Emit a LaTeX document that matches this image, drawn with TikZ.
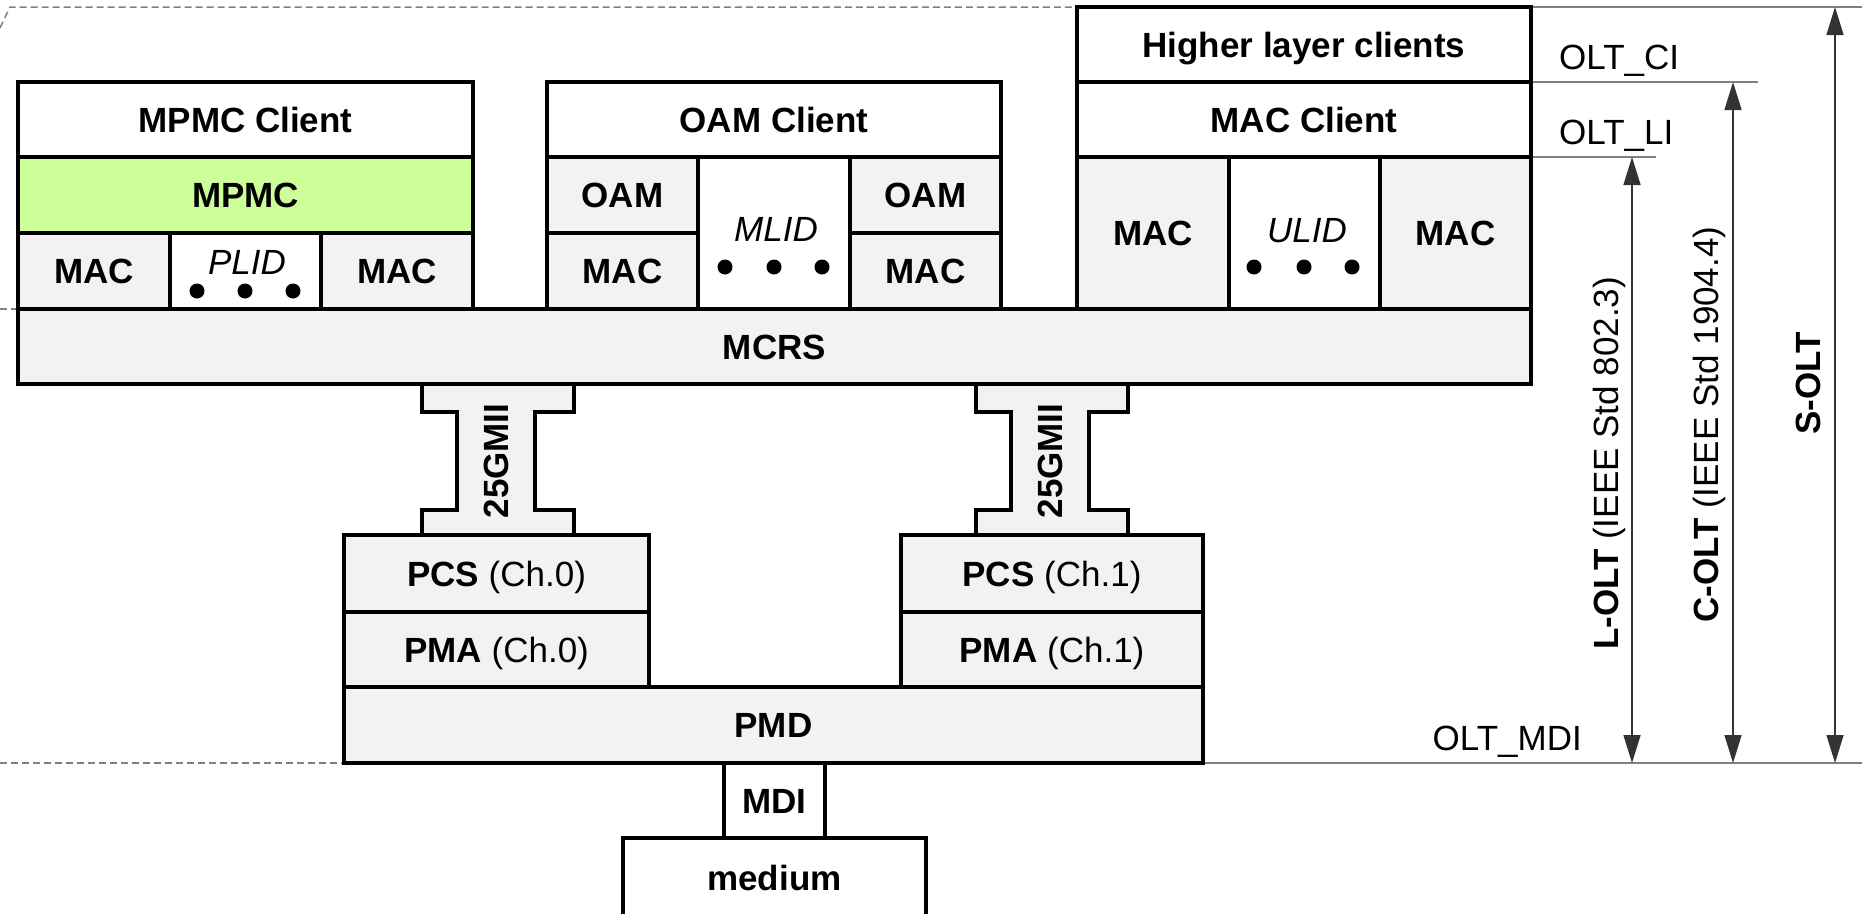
\documentclass[tikz,border=0pt]{standalone}
\usepackage{fontspec}
\setmainfont{Liberation Sans}
\usetikzlibrary{arrows.meta}
\definecolor{layergray}{HTML}{F2F2F2}
\definecolor{mpmcgreen}{HTML}{CCFF99}
\definecolor{refgray}{HTML}{808080}
% box from (x1,y1) to (x2,y2): [style]{name}{x1}{y1}{x2}{y2}{text}
\newcommand\layerbox[7][layer]{%
  \node[#1,anchor=north west,minimum width={(#5-#3)*1pt},
    minimum height={(#6-#4)*1pt}] (#2) at (#3,#4) {#7};}

\begin{document}
\fontsize{35pt}{42pt}\selectfont
\begin{tikzpicture}[x=1pt,y=-1pt,
    layer/.style={draw,line width=4.5pt,fill=layergray,inner sep=0pt,outer sep=0pt,
      font=\bfseries,text height=25pt,text depth=0pt},
    client/.style={layer,fill=white},
    mpmcbox/.style={layer,fill=mpmcgreen},
    tag/.style={inner sep=0pt,text height=25pt,text depth=0pt},
    idtag/.style={tag,font=\itshape},
    sidetag/.style={tag,rotate=90,anchor=west},
    gmiitag/.style={tag,rotate=90,font=\bfseries},
    gmii/.style={draw,line width=4.5pt,fill=layergray},
    dotmark/.style={circle,fill=black,inner sep=0pt,minimum size=15pt},
    refline/.style={draw=refgray,line width=1.5pt},
    dimline/.style={draw=black!80,line width=1.5pt,
      {Triangle[length=28pt,width=17pt]}-{Triangle[length=28pt,width=17pt]}}]
  \useasboundingbox (0,0) rectangle (1862,913);

  % reference lines
  \draw[refline,dash pattern=on 7pt off 4pt] (0,28) -- (10,7) -- (1077,7);
  \draw[refline,dash pattern=on 7pt off 4pt] (0,309) -- (18,309);
  \draw[refline,dash pattern=on 7pt off 4pt] (0,763) -- (344,763);
  \draw[refline] (1531,7) -- (1862,7);
  \draw[refline] (1531,82) -- (1758,82);
  \draw[refline] (1531,157) -- (1656,157);
  \draw[refline] (1203,763) -- (1862,763);

  % 25GMII links
  \foreach \x/\ch in {422/0,976/1} {
    \draw[gmii] (\x,384) -- ++(0,28) -- ++(35,0) -- ++(0,98) -- ++(-35,0)
      -- ++(0,25) -- ++(152,0) -- ++(0,-25) -- ++(-39,0) -- ++(0,-98)
      -- ++(39,0) -- ++(0,-28) -- cycle;
    \node[gmiitag] (gmii\ch) at (\x+74,461) {25GMII};
  }

  % MPMC stack
  \layerbox[client]{mpmcclient}{18}{82}{473}{157}{MPMC Client}
  \layerbox[mpmcbox]{mpmc}{18}{157}{473}{233}{MPMC}
  \layerbox{mac1}{18}{233}{170}{309}{MAC}
  \layerbox[client]{plid}{170}{233}{321}{309}{}
  \layerbox{mac2}{321}{233}{473}{309}{MAC}
  \node[idtag] (plidtag) at (247,262) {PLID};
  \foreach \x [count=\i] in {197,245,293}
    \node[dotmark] (pliddot\i) at (\x,291) {};

  % OAM stack
  \layerbox[client]{oamclient}{547}{82}{1001}{157}{OAM Client}
  \layerbox{oam1}{547}{157}{698}{233}{OAM}
  \layerbox{mac3}{547}{233}{698}{309}{MAC}
  \layerbox[client]{mlid}{698}{157}{850}{309}{}
  \layerbox{oam2}{850}{157}{1001}{233}{OAM}
  \layerbox{mac4}{850}{233}{1001}{309}{MAC}
  \node[idtag] (mlidtag) at (776,229) {MLID};
  \foreach \x [count=\i] in {725,774,822}
    \node[dotmark] (mliddot\i) at (\x,267) {};

  % MAC client stack
  \layerbox[client]{higher}{1077}{7}{1531}{82}{Higher layer clients}
  \layerbox[client]{macclient}{1077}{82}{1531}{157}{MAC Client}
  \layerbox{mac5}{1077}{157}{1229}{309}{MAC}
  \layerbox[client]{ulid}{1229}{157}{1380}{309}{}
  \layerbox{mac6}{1380}{157}{1531}{309}{MAC}
  \node[idtag] (ulidtag) at (1307,230) {ULID};
  \foreach \x [count=\i] in {1254,1304,1352}
    \node[dotmark] (uliddot\i) at (\x,267) {};

  \layerbox{mcrs}{18}{309}{1531}{384}{MCRS}

  % PHY
  \layerbox{pcs0}{344}{535}{649}{612}{PCS {\mdseries(Ch.0)}}
  \layerbox{pma0}{344}{612}{649}{687}{PMA {\mdseries(Ch.0)}}
  \layerbox{pcs1}{901}{535}{1203}{612}{PCS {\mdseries(Ch.1)}}
  \layerbox{pma1}{901}{612}{1203}{687}{PMA {\mdseries(Ch.1)}}
  \layerbox{pmd}{344}{687}{1203}{763}{PMD}
  \layerbox[client]{mdi}{724}{763}{825}{838}{MDI}
  \layerbox[client]{medium}{623}{838}{926}{918}{medium}

  % interface names
  \node[tag,anchor=west] (olt_ci) at (1559,57) {OLT\_CI};
  \node[tag,anchor=west] (olt_li) at (1559,132) {OLT\_LI};
  \node[tag,anchor=east] (olt_mdi) at (1582,738) {OLT\_MDI};

  % scope of each OLT
  \coordinate (lTop) at (1632,157);
  \coordinate (lBot) at (1632,763);
  \coordinate (cTop) at (1733,82);
  \coordinate (cBot) at (1733,763);
  \coordinate (sTop) at (1835,7);
  \coordinate (sBot) at (1835,763);
  \draw[dimline] (lTop) -- (lBot);
  \draw[dimline] (cTop) -- (cBot);
  \draw[dimline] (sTop) -- (sBot);
  \node[sidetag] (lolt) at (1606,650) {\textbf{L-OLT} (IEEE Std 802.3)};
  \node[sidetag] (colt) at (1706,623) {\textbf{C-OLT} (IEEE Std 1904.4)};
  \node[sidetag] (solt) at (1808,435) {\textbf{S-OLT}};
\end{tikzpicture}
\end{document}
